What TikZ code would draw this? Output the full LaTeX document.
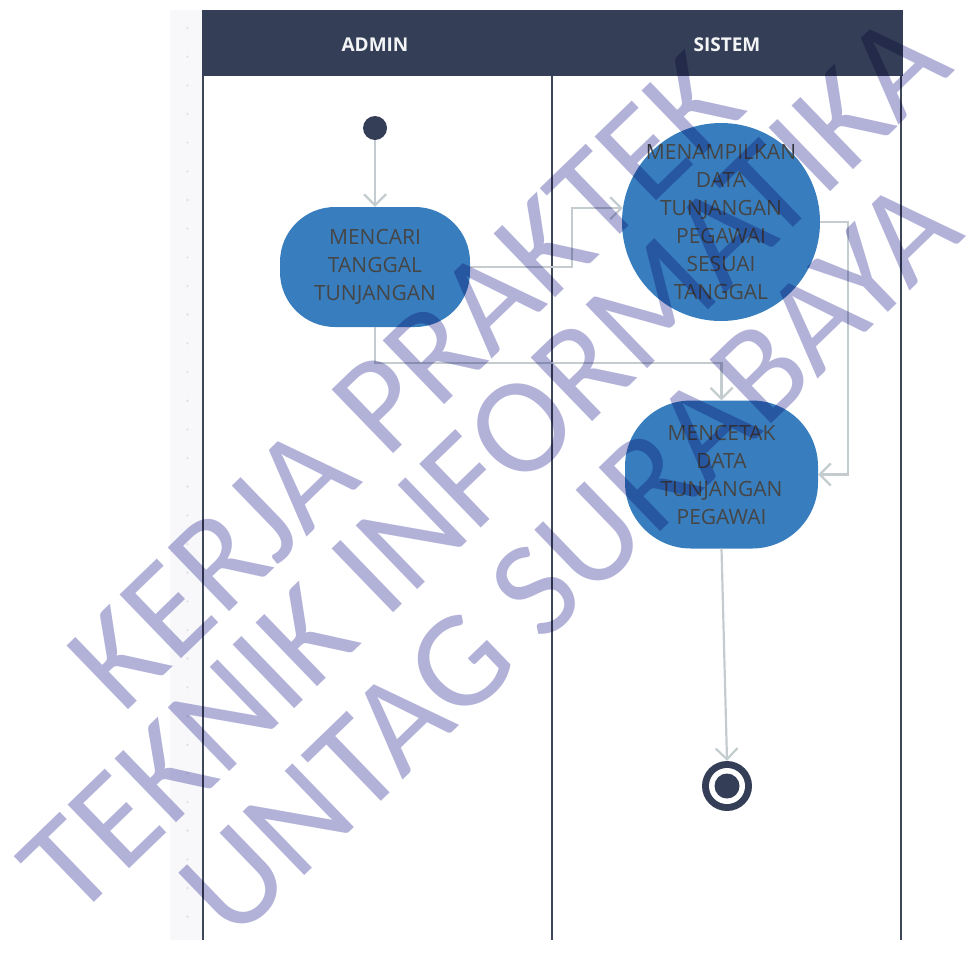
\documentclass[tikz,border=0pt]{standalone}
\usepackage{fontspec}
\setmainfont{Open Sans}
\newfontfamily\wmfont{Carlito}
\usetikzlibrary{arrows.meta}

\definecolor{navy}{HTML}{343F57}
\definecolor{lanecol}{HTML}{3E4659}
\definecolor{actblue}{HTML}{387EBE}
\definecolor{acttext}{HTML}{454545}
\definecolor{flowgrey}{HTML}{C4CCCF}
\definecolor{stripcol}{HTML}{F8F8FB}
\definecolor{dotcol}{HTML}{E2E2E8}
\definecolor{wmcol}{HTML}{B2B2D9}

\tikzset{
    lane/.style={draw=lanecol, line width=2.2pt},
    acttxt/.style={text=acttext, align=center, font=\fontsize{21}{28}\selectfont},
    act/.style={fill=actblue, inner sep=0pt, acttxt},
    flow/.style={draw=flowgrey, line width=2.2pt, -{Straight Barb[length=11pt,width=22pt]}},
    lanetitle/.style={text=white!94!navy, font=\bfseries\fontsize{19}{19}\selectfont},
    wmark/.style={text=wmcol, rotate=44, anchor=base, inner sep=0pt,
        font=\wmfont\fontsize{138}{138}\selectfont},
}

\begin{document}
\begin{tikzpicture}[x=1pt,y=1pt]
    \useasboundingbox (0,0) rectangle (973,-959);

    % ruler strip on the left
    \fill[stripcol] (170,-10) rectangle (202,-940);
    \foreach \k in {0,...,31} {
        \fill[dotcol] (187.5,{-28-28.67*\k}) circle (1.3); }

    % swimlanes
    \fill[navy] (202,-10) rectangle (903,-76);
    \node[lanetitle] (admin) at (375,-45) {ADMIN};
    \node[lanetitle] (sistem) at (727,-45) {SISTEM};
    \draw[lane] (203,-76) -- (203,-940);
    \draw[lane] (552,-76) -- (552,-940);
    \draw[lane] (901,-76) -- (901,-940);

    % activities
    \node[circle, fill=navy, minimum size=24pt, inner sep=0pt] (start) at (375,-128) {};
    \node[act, minimum width=190pt, minimum height=120pt, rounded corners=55pt] (mencari) at (375,-267)
        {MENCARI\\TANGGAL\\TUNJANGAN};
    \node[act, circle, minimum size=198pt,
        label={[acttxt]center:{MENAMPILKAN\\DATA\\TUNJANGAN\\PEGAWAI\\SESUAI\\TANGGAL}}] (tampil) at (721,-222) {};
    \node[act, minimum width=193pt, minimum height=148pt, rounded corners=66pt] (cetak) at (721.5,-474.5)
        {MENCETAK\\DATA\\TUNJANGAN\\PEGAWAI};
    \node[circle, fill=navy, minimum size=50pt, inner sep=0pt] (finish) at (727,-786) {};
    \fill[white] (finish) circle (18);
    \fill[navy] (finish) circle (12.5);

    \draw[flow] (start) -- (mencari);
    \draw[flow] (mencari.east) -- ++(102,0) |- (tampil.172);
    \draw[flow] (mencari.south) -- ++(0,-36) -| (cetak.north);
    \draw[flow] (tampil.east) -- ++(28,0) |- (cetak.east);
    \draw[flow] (cetak.south) -- (finish.north);

    % watermark
    \begin{scope}[blend mode=multiply]
        \node[wmark] (wm1) at (436,-413) {KERJA PRAKTEK};
        \node[wmark] (wm2) at (515,-496) {TEKNIK INFORMATIKA};
        \node[wmark] (wm3) at (600,-590) {UNTAG SURABAYA};
    \end{scope}
\end{tikzpicture}
\end{document}
